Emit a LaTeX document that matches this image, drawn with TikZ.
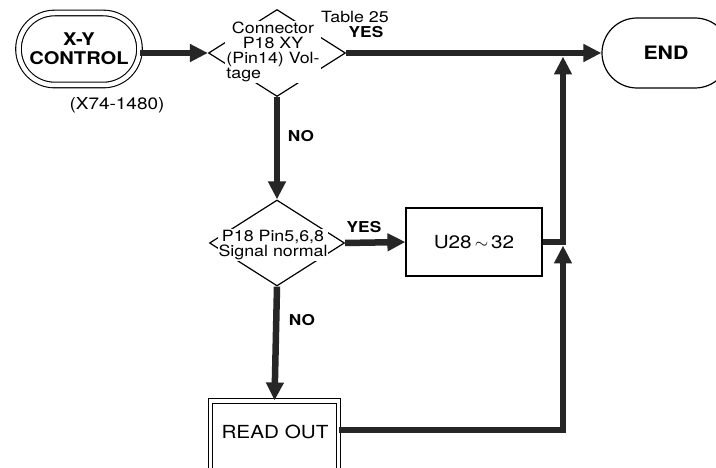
\documentclass[tikz,border=0pt]{standalone}
\usepackage{fontspec}
\setmainfont{TeX Gyre Heros}[FakeStretch=1.15]
\usepackage{calc}
\usetikzlibrary{arrows.meta,shapes.geometric,shapes.misc}
\begin{document}
\begin{tikzpicture}[x=1pt,y=-1pt,
  flow/.style={line width=6.5pt, draw=black!85, -{Triangle[length=18pt,width=17pt]}},
  thin/.style={draw=black, line width=1.2pt},
  term/.style={thin, shape=rounded rectangle, rounded rectangle arc length=180, inner sep=0pt},
  dblterm/.style={term, line width=1.1pt, double, double distance=4.5pt},
  dec/.style={thin, shape=diamond, inner sep=0pt},
  proc/.style={thin, rectangle, inner sep=0pt},
  dblproc/.style={proc, line width=1.1pt, double, double distance=3.5pt},
  dtext/.style={fill=white, inner sep=1pt, align=center, font=\fontsize{15.5}{15}\selectfont},
  lab/.style={inner sep=0pt, font=\fontsize{15.5}{17}\selectfont},
  blab/.style={inner sep=0pt, font=\fontsize{15}{17}\selectfont\bfseries}
]
\clip (0,0) rectangle (716,468);
\fill[white] (0,0) rectangle (716,468);

% nodes
\node[dblterm, minimum width=121pt, minimum height=72pt, align=center,
      font=\fontsize{17.5}{19}\selectfont\bfseries] (start) at (79,49) {X-Y\\CONTROL};
\node[lab, font=\fontsize{16.5}{18}\selectfont] (code) at (117,105) {(X74-1480)};

\node[dec, minimum width=137pt, minimum height=87pt] (d1) at (277,53) {};
\node[dtext] (d1t) at (273,52) {Connector\\P18 XY\\(Pin14) Vol-\\\makebox[\widthof{(Pin14) Vol-}][l]{tage}};

\node[term, minimum width=128pt, minimum height=70pt,
      font=\fontsize{18.5}{20}\selectfont\bfseries] (endn) at (666,53) {END};

\node[dec, minimum width=135pt, minimum height=86pt] (d2) at (277,243) {};
\node[dtext] (d2t) at (273,245) {P18 Pin5,6,8\\Signal normal};

\node[proc, minimum width=136pt, minimum height=68pt,
      font=\fontsize{18}{20}\selectfont] (u) at (474,242) {U28\,$\sim$\,32};

\node[dblproc, minimum width=128pt, minimum height=70pt] (ro) at (274.5,436) {};
\node[inner sep=0pt, font=\fontsize{18}{20}\selectfont] (rot) at (275,432) {READ OUT};

% labels
\node[lab] (tab) at (355,17) {Table 25};
\node[blab] (yes1) at (366,32) {YES};
\node[blab] (no1) at (301,136) {NO};
\node[blab] (yes2) at (364,227) {YES};
\node[blab] (no2) at (302,320) {NO};

% junction coordinates
\coordinate (jA) at (563,56.5);
\coordinate (jB) at (563,245.5);
\coordinate (cR) at (563,430);

% connectors
\draw[flow] (start.east |- d1.west) -- (d1.west);
\draw[flow] (d1.east) -- (endn.west);
\draw[flow] (d1.south) -- (d2.north);
\draw[flow] (d2.east) -- (u.west);
\draw[flow] (d2.south) -- (ro.north);
\draw[flow] (u.east) -| (jA);
\draw[flow] (ro.east |- cR) -- (cR) -- (jB);
\end{tikzpicture}
\end{document}
